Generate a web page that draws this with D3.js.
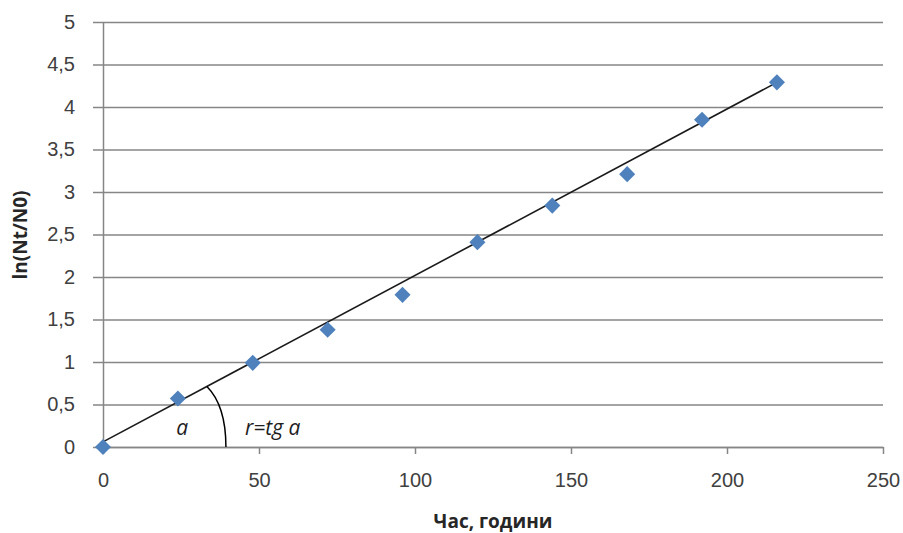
<!DOCTYPE html>
<html>
<head>
<meta charset="utf-8">
<script src="https://cdn.jsdelivr.net/npm/d3@7"></script>
<style>
  html, body { margin: 0; padding: 0; background: #fff; }
  svg { display: block; font-family: "Open Sans", "Liberation Sans", sans-serif; }
  .tick text { fill: #404040; font-size: 20px; }
</style>
</head>
<body>
<svg id="chart" width="903" height="533"></svg>
<script>
const hours = [0, 24, 48, 72, 96, 120, 144, 168, 192, 216];
const lnRatio = [0, 0.57, 0.99, 1.38, 1.79, 2.41, 2.84, 3.21, 3.85, 4.29];
const xTicks = [0, 50, 100, 150, 200, 250];
const yTicks = [0, 0.5, 1, 1.5, 2, 2.5, 3, 3.5, 4, 4.5, 5];
const trendX = [0, 216];
const trendY = [0.06, 4.29];
const arcFrom = 33.3; // where the angle arc leaves the trend line
const arcTo = 39.4;   // where it meets the x axis

const svg = d3.select("#chart");
const margin = { left: 103, right: 20, top: 22, bottom: 86 };

const x = d3.scaleLinear().domain([0, 250]).range([margin.left, 883]);
const y = d3.scaleLinear().domain([0, 5]).range([447, margin.top]);

const fmt = (v) => String(v).replace(".", ",");

// y axis, gridlines with the short left tick
svg.append("g")
  .attr("transform", `translate(${margin.left},0)`)
  .call(d3.axisLeft(y).tickValues(yTicks).tickSize(10).tickSizeOuter(0).tickPadding(18).tickFormat(fmt))
  .call((g) => g.select(".domain").attr("stroke", "#868686").attr("stroke-width", 1.5))
  .call((g) => g.selectAll(".tick line").attr("stroke", "#868686").attr("stroke-width", 1.5))
  .call((g) => g.selectAll(".tick").append("line")
    .attr("x1", 0).attr("x2", x(250) - margin.left)
    .attr("stroke", "#868686").attr("stroke-width", 1.5));

svg.append("g")
  .attr("transform", `translate(0,${y(0)})`)
  .call(d3.axisBottom(x).tickValues(xTicks).tickSize(7).tickSizeOuter(0).tickPadding(19).tickFormat(fmt))
  .call((g) => g.select(".domain").attr("stroke", "#868686").attr("stroke-width", 1.5))
  .call((g) => g.selectAll(".tick line").attr("stroke", "#868686").attr("stroke-width", 1.5));

// trend line
svg.append("line")
  .attr("x1", x(trendX[0])).attr("y1", y(trendY[0]))
  .attr("x2", x(trendX[1])).attr("y2", y(trendY[1]))
  .attr("stroke", "#1a1a1a").attr("stroke-width", 1.6);

// points
const diamond = d3.symbol().type(d3.symbolDiamond2).size(165);
svg.append("g")
  .selectAll("path")
  .data(hours.map((h, i) => [h, lnRatio[i]]))
  .join("path")
  .attr("d", diamond)
  .attr("transform", (d) => `translate(${x(d[0])},${y(d[1])})`)
  .attr("fill", "#4f81bd");

// angle annotation
const slope = (trendY[1] - trendY[0]) / (trendX[1] - trendX[0]);
const ax0 = x(arcFrom), ay0 = y(trendY[0] + slope * arcFrom);
const ax1 = x(arcTo), ay1 = y(0);
svg.append("path")
  .attr("d", `M${ax0},${ay0} C${ax0 + 12},${ay0 + 12} ${ax1},${ay1 - 30} ${ax1},${ay1}`)
  .attr("fill", "none").attr("stroke", "#000").attr("stroke-width", 1.5);

svg.append("text")
  .attr("x", x(23.5)).attr("y", 435)
  .attr("font-size", 21).attr("font-style", "italic").attr("fill", "#1f1f1f")
  .text("a");
svg.append("text")
  .attr("x", x(45.5)).attr("y", 435)
  .attr("font-size", 21).attr("font-style", "italic").attr("fill", "#1f1f1f")
  .text("r=tg a");

// axis titles
svg.append("text")
  .attr("x", x(125)).attr("y", 528)
  .attr("text-anchor", "middle")
  .attr("font-size", 19).attr("font-weight", "bold").attr("fill", "#262626")
  .text("Час, години");

svg.append("text")
  .attr("transform", "translate(27,235) rotate(-90)")
  .attr("text-anchor", "middle")
  .attr("font-size", 19).attr("font-weight", "bold").attr("fill", "#262626")
  .text("ln(Nt/N0)");
</script>
</body>
</html>
